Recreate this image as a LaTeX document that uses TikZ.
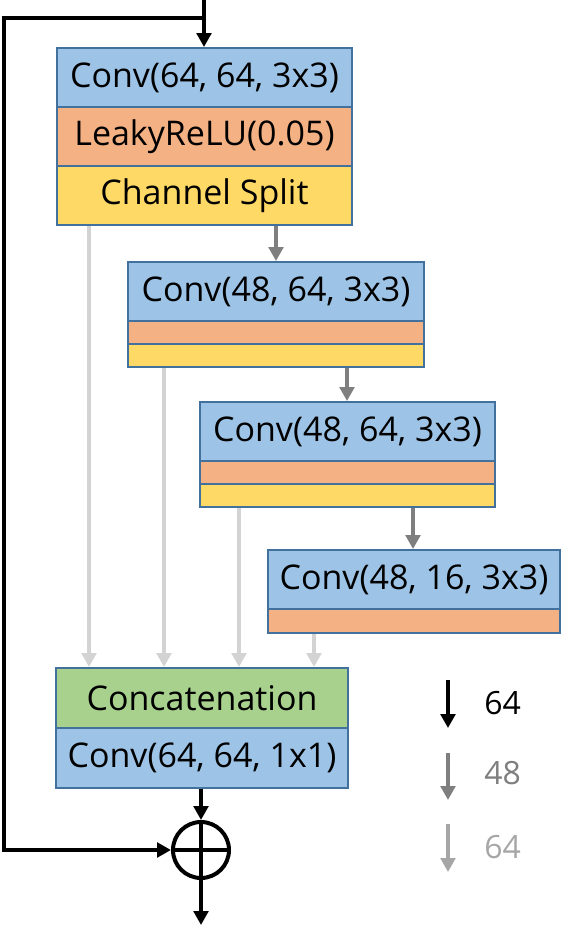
\documentclass[tikz,border=0pt]{standalone}
\usepackage{fontspec}
\setmainfont{Open Sans}
\usetikzlibrary{arrows.meta}
\definecolor{cblue}{HTML}{9DC3E6}
\definecolor{corange}{HTML}{F4B183}
\definecolor{cyellow}{HTML}{FFD966}
\definecolor{cgreen}{HTML}{A9D18E}
\definecolor{cborder}{HTML}{41719C}
\definecolor{cgray}{HTML}{7F7F7F}
\definecolor{clight}{HTML}{D3D3D3}
\definecolor{clegend}{HTML}{A6A6A6}
\tikzset{
  layer/.style={draw=cborder, line width=1.5pt, inner sep=0pt, anchor=north west, font=\fontsize{25.5}{30}\selectfont},
  convbox/.style={layer, fill=cblue},
  relubox/.style={layer, fill=corange},
  splitbox/.style={layer, fill=cyellow},
  catbox/.style={layer, fill=cgreen},
  tip/.style={-{Triangle[length=10.5pt,width=11pt]}},
  blk/.style={line width=3pt, black},
  midgray/.style={line width=3pt, cgray, tip},
  lightgray/.style={line width=3pt, clight, tip},
  legtext/.style={font=\fontsize{24}{28}\selectfont, anchor=west, inner sep=0pt},
}
\begin{document}
\begin{tikzpicture}[x=0.75pt,y=-0.75pt]
\useasboundingbox (0,0) rectangle (576,940);
% block A
\node[convbox, minimum width=221.25pt, minimum height=44.25pt] (a1) at (56,47) {Conv(64, 64, 3x3)};
\node[relubox, minimum width=221.25pt, minimum height=44.25pt] (a2) at (56,106) {LeakyReLU(0.05)};
\node[splitbox, minimum width=221.25pt, minimum height=44.25pt] (a3) at (56,165) {Channel Split};
% block B
\node[convbox, minimum width=222pt, minimum height=44.25pt] (b1) at (127,261) {Conv(48, 64, 3x3)};
\node[relubox, minimum width=222pt, minimum height=17.25pt] (b2) at (127,320) {};
\node[splitbox, minimum width=222pt, minimum height=17.25pt] (b3) at (127,343) {};
% block C
\node[convbox, minimum width=221.25pt, minimum height=44.25pt] (c1) at (199,401) {Conv(48, 64, 3x3)};
\node[relubox, minimum width=221.25pt, minimum height=17.25pt] (c2) at (199,460) {};
\node[splitbox, minimum width=221.25pt, minimum height=17.25pt] (c3) at (199,483) {};
% block D
\node[convbox, minimum width=219pt, minimum height=44.25pt] (d1) at (267,549) {Conv(48, 16, 3x3)};
\node[relubox, minimum width=219pt, minimum height=18pt] (d2) at (267,608) {};
% block E
\node[catbox, minimum width=219pt, minimum height=45pt] (e1) at (55,667) {Concatenation};
\node[convbox, minimum width=219pt, minimum height=45pt] (e2) at (55,727) {Conv(64, 64, 1x1)};
% sum
\node[draw, circle, line width=3pt, minimum size=42pt, inner sep=0pt] (plus) at (201,850) {};
\draw[line width=3pt] (plus.north) -- (plus.south) (plus.west) -- (plus.east);
% coordinates
\coordinate (in) at (204,0);
\coordinate (corner) at (4,18);
\coordinate (out) at (201,925);
\coordinate (xab) at (276,0);
\coordinate (xbc) at (347,0);
\coordinate (xcd) at (413,0);
\coordinate (x1) at (89,0);
\coordinate (x2) at (164,0);
\coordinate (x3) at (239,0);
\coordinate (x4) at (314,0);
% skip connection and main flow
\draw[blk, tip] (in) -- (a1.north -| in);
\draw[blk, tip] (in |- corner) -- (corner) -- (corner |- plus) -- (plus.west);
\draw[blk, tip] (e2.south -| plus) -- (plus.north);
\draw[blk, tip] (plus.south) -- (out);
% gray arrows
\draw[midgray] (a3.south -| xab) -- (b1.north -| xab);
\draw[midgray] (b3.south -| xbc) -- (c1.north -| xbc);
\draw[midgray] (c3.south -| xcd) -- (d1.north -| xcd);
% light arrows
\draw[lightgray] (a3.south -| x1) -- (e1.north -| x1);
\draw[lightgray] (b3.south -| x2) -- (e1.north -| x2);
\draw[lightgray] (c3.south -| x3) -- (e1.north -| x3);
\draw[lightgray] (d2.south -| x4) -- (e1.north -| x4);
% legend
\coordinate (l1s) at (448,680); \coordinate (l1e) at (448,728);
\coordinate (l2s) at (448,753); \coordinate (l2e) at (448,800);
\coordinate (l3s) at (448,824); \coordinate (l3e) at (448,872);
\draw[blk, tip] (l1s) -- (l1e);
\draw[line width=3pt, cgray, tip] (l2s) -- (l2e);
\draw[line width=3pt, clegend, tip] (l3s) -- (l3e);
\node[legtext] (t1) at (484,703) {64};
\node[legtext, text=cgray] (t2) at (484,773) {48};
\node[legtext, text=clegend] (t3) at (484,847) {64};
\end{tikzpicture}
\end{document}
